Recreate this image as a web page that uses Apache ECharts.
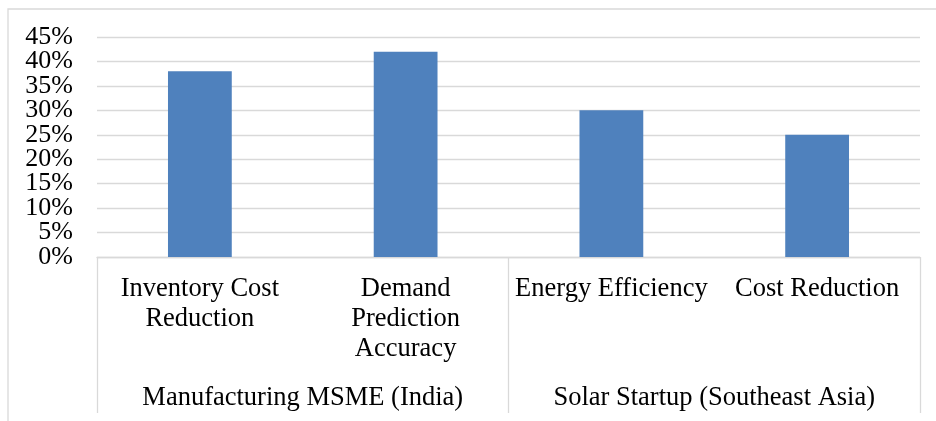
<!DOCTYPE html>
<html>
<head>
<meta charset="utf-8">
<script src="https://cdn.jsdelivr.net/npm/echarts@6/dist/echarts.min.js"></script>
<style>
  html, body { margin: 0; padding: 0; background: #fff; }
  #chart { width: 936px; height: 421px; }
</style>
</head>
<body>
<div id="chart"></div>
<script>
// Metric names (inner axis row) and their case-study groups (outer axis row)
const metrics = ['Inventory Cost\nReduction', 'Demand\nPrediction\nAccuracy', 'Energy Efficiency', 'Cost Reduction'];
const groups = ['Manufacturing MSME (India)', 'Solar Startup (Southeast Asia)'];
// Improvement in percent for each metric
const improvement = [38, 42, 30, 25];
// Value axis ticks
const yMin = 0, yMax = 45, yStep = 5;

const FONT = '"Liberation Serif", "Times New Roman", serif';
const GRID_GRAY = '#d9d9d9';

// The tick labels sit closer together than their font height, so the even and
// odd labels are placed on two overlaid value axes sharing the same scale.
function percentLabels(keepEven) {
  return function (v) {
    const even = Math.round(v / yStep) % 2 === 0;
    return even === keepEven ? v + '%' : '';
  };
}

function valueAxis(keepEven, showGrid) {
  return {
    type: 'value',
    position: 'left',
    min: yMin,
    max: yMax,
    interval: yStep,
    axisLine: { show: false },
    axisTick: { show: false },
    splitLine: { show: showGrid, lineStyle: { color: GRID_GRAY, width: 1.3 } },
    axisLabel: {
      formatter: percentLabels(keepEven),
      margin: 24,
      showMinLabel: true,
      showMaxLabel: true,
      fontFamily: FONT,
      fontSize: 26,
      color: '#000'
    }
  };
}

const chart = echarts.init(document.getElementById('chart'), null, { renderer: 'canvas' });

chart.setOption({
  animation: false,
  backgroundColor: '#ffffff',
  graphic: [{
    type: 'rect',
    shape: { x: 8, y: 9, width: 1200, height: 1200 },
    style: { fill: 'none', stroke: GRID_GRAY, lineWidth: 1.3 },
    silent: true,
    z: 0
  }],
  grid: { left: 97, right: 16, top: 37, bottom: 164 },
  xAxis: [
    {
      type: 'category',
      data: metrics,
      position: 'bottom',
      axisLine: { show: true, lineStyle: { color: GRID_GRAY, width: 1.3 } },
      axisTick: { show: false },
      axisLabel: {
        interval: 0,
        margin: 17,
        fontFamily: FONT,
        fontSize: 26.5,
        lineHeight: 30,
        color: '#000'
      }
    },
    {
      type: 'category',
      data: groups,
      position: 'bottom',
      axisLine: { show: false },
      axisTick: { show: true, length: 156, lineStyle: { color: GRID_GRAY, width: 1.3 } },
      axisLabel: {
        interval: 0,
        margin: 128,
        fontFamily: FONT,
        fontSize: 26.5,
        color: '#000'
      }
    }
  ],
  yAxis: [valueAxis(true, true), valueAxis(false, false)],
  series: [{
    type: 'bar',
    xAxisIndex: 0,
    yAxisIndex: 0,
    data: improvement,
    barWidth: '31%',
    itemStyle: { color: '#4f81bd' }
  }]
});
</script>
</body>
</html>
